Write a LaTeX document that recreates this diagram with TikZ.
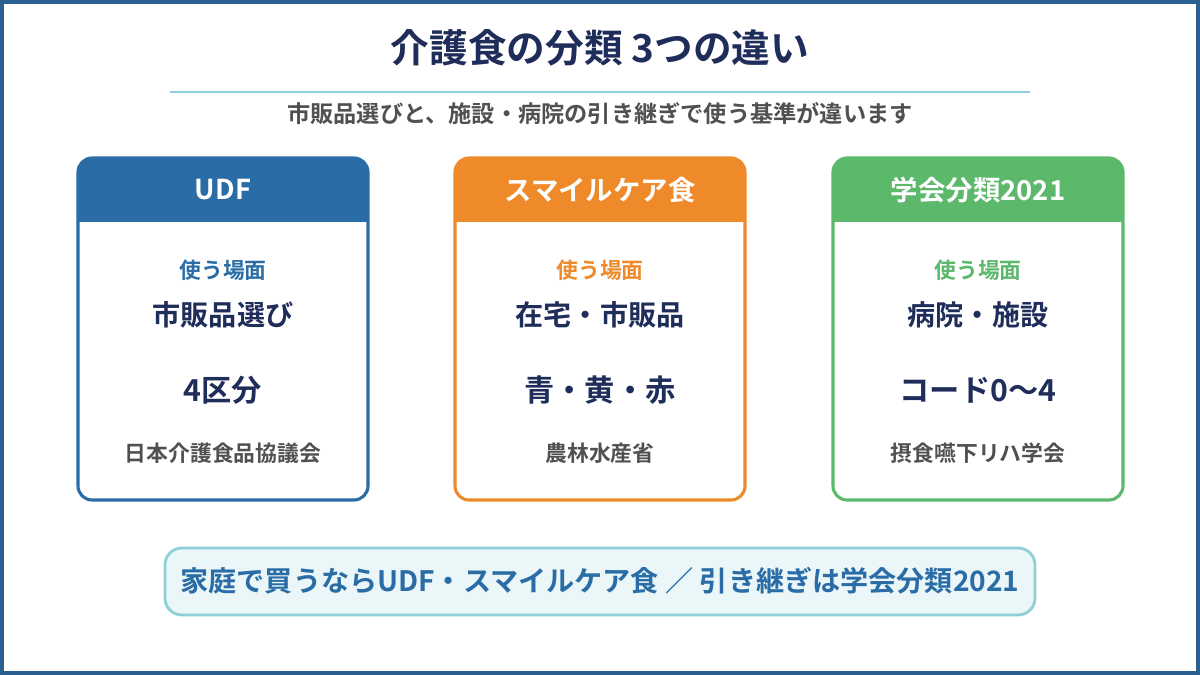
\documentclass[tikz,border=0pt]{standalone}
\usepackage{fontspec}
\newfontfamily\jp{Noto Sans CJK JP}[BoldFont={Noto Sans CJK JP Bold}]
\definecolor{navy}{HTML}{1F2D5A}
\definecolor{frame}{HTML}{2A5F8F}
\definecolor{udf}{HTML}{2A6DA6}
\definecolor{smile}{HTML}{EE8A2A}
\definecolor{gakkai}{HTML}{5CB86A}
\definecolor{teal}{HTML}{8ED0D6}
\definecolor{pale}{HTML}{EAF6F8}
\definecolor{subgray}{HTML}{505050}
\tikzset{
  head/.style={font=\jp\bfseries\fontsize{19.5}{22}\selectfont, text=white},
  scene/.style={font=\jp\bfseries\fontsize{15.5}{18}\selectfont},
  main/.style={font=\jp\bfseries\fontsize{20}{23}\selectfont, text=navy},
  big/.style={font=\jp\bfseries\fontsize{21.5}{25}\selectfont, text=navy},
  org/.style={font=\jp\bfseries\fontsize{15.5}{18}\selectfont, text=subgray}
}
% card: x-left, colour, name, header, main, big, org
\newcommand{\card}[7]{
  \begin{scope}
    \clip[rounded corners=10pt] (#1,158) rectangle ++(290,342);
    \fill[white] (#1,158) rectangle ++(290,342);
    \fill[#2] (#1,158) rectangle ++(290,64);
  \end{scope}
  \draw[#2, line width=2.2pt, rounded corners=10pt] (#1,158) rectangle ++(290,342);
  \node[head] (#3head) at (#1+145,190) {#4};
  \node[scene, text=#2] (#3scene) at (#1+145,270) {使う場面};
  \node[main] (#3main) at (#1+145,315) {#5};
  \node[big] (#3big) at (#1+145,390) {#6};
  \node[org] (#3org) at (#1+145,453) {#7};
}
\begin{document}
\begin{tikzpicture}[x=0.025cm, y=-0.025cm]
  \useasboundingbox (0,0) rectangle (1200,675);
  \fill[white] (0,0) rectangle (1200,675);
  \draw[frame, line width=3pt] (2,2) rectangle (1198,673);

  \node[font=\jp\bfseries\fontsize{27.5}{30}\selectfont, text=navy] (title) at (600,48) {介護食の分類 3つの違い};
  \draw[teal, line width=2pt] (170,92) -- (1030,92);
  \node[font=\jp\bfseries\fontsize{16.5}{19}\selectfont, text=subgray] (subtitle) at (600,114) {市販品選びと、施設・病院の引き継ぎで使う基準が違います};

  \card{78}{udf}{udf}{UDF}{市販品選び}{4区分}{日本介護食品協議会}
  \card{455}{smile}{smile}{スマイルケア食}{在宅・市販品}{青・黄・赤}{農林水産省}
  \card{833}{gakkai}{gakkai}{学会分類2021}{病院・施設}{コード0〜4}{摂食嚥下リハ学会}

  \draw[teal, fill=pale, line width=2pt, rounded corners=12pt] (165,548) rectangle (1035,615);
  \node[font=\jp\bfseries\fontsize{20}{23}\selectfont, text=udf] (summary) at (600,581) {家庭で買うならUDF・スマイルケア食 ／ 引き継ぎは学会分類2021};
\end{tikzpicture}
\end{document}
